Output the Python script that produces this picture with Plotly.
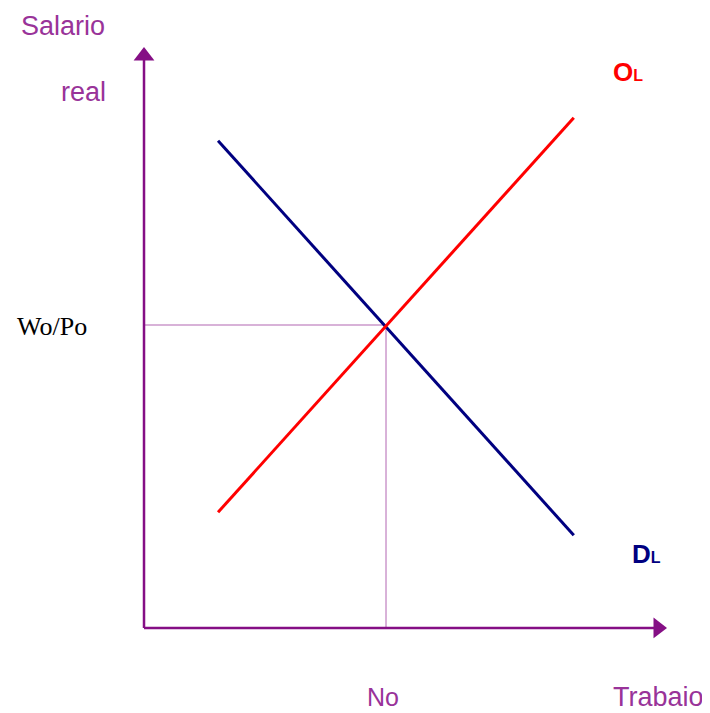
import plotly.graph_objects as go

# Labour market: supply (OL) and demand (DL) of labour vs real wage
demand_x = [1.53, 8.88]
demand_y = [8.04, 1.53]
supply_x = [1.53, 8.88]
supply_y = [1.91, 8.42]

# equilibrium
n0 = 5.0
w0 = 5.0

# axis extents (arrow marker centres)
x_axis_end = 10.62
y_axis_end = 9.44

purple = "#850F85"
text_purple = "#993399"
guide = "#CC99CC"

fig = go.Figure()

# guide lines to the equilibrium
fig.add_trace(go.Scatter(x=[0, n0, n0], y=[w0, w0, 0], mode="lines",
                         line=dict(color=guide, width=1.5), hoverinfo="skip"))

# axes
fig.add_trace(go.Scatter(x=[0, 0], y=[0, y_axis_end], mode="lines",
                         line=dict(color=purple, width=2.5), hoverinfo="skip"))
fig.add_trace(go.Scatter(x=[0, x_axis_end], y=[0, 0], mode="lines",
                         line=dict(color=purple, width=2.5), hoverinfo="skip"))
fig.add_trace(go.Scatter(x=[0], y=[y_axis_end], mode="markers",
                         marker=dict(symbol="triangle-up", size=18, color=purple),
                         hoverinfo="skip"))
fig.add_trace(go.Scatter(x=[x_axis_end], y=[0], mode="markers",
                         marker=dict(symbol="triangle-right", size=18, color=purple),
                         hoverinfo="skip"))

# curves
fig.add_trace(go.Scatter(x=demand_x, y=demand_y, mode="lines",
                         line=dict(color="#000080", width=3), name="DL"))
fig.add_trace(go.Scatter(x=supply_x, y=supply_y, mode="lines",
                         line=dict(color="#FF0000", width=3), name="OL"))

sans = "Liberation Sans, Arial, sans-serif"
labels = [
    (-1.674, 9.934, "Salario", text_purple, 27, sans),
    (-1.260, 8.845, "real", text_purple, 27, sans),
    (-1.901, 4.98, "Wo/Po", "#000000", 26, "Liberation Serif, Times New Roman, serif"),
    (4.938, -1.139, "No", text_purple, 25, sans),
    (10.63, -1.139, "Trabaio", text_purple, 27, sans),
    (10.0, 9.175, "<b>O<span style='font-size:16px'>L</span></b>", "#FF0000", 26, sans),
    (10.39, 1.22, "<b>D<span style='font-size:16px'>L</span></b>", "#000080", 26, sans),
]
for x, y, t, c, s, f in labels:
    fig.add_annotation(x=x, y=y, text=t, showarrow=False,
                       font=dict(color=c, size=s, family=f))

# page body adds an 8px offset, so the figure is 8px smaller and ranges shifted
fig.update_layout(
    width=702, height=705,
    margin=dict(l=0, r=0, t=0, b=0),
    paper_bgcolor="white", plot_bgcolor="white",
    showlegend=False,
    xaxis=dict(range=[-2.810, 11.694], visible=False, fixedrange=True),
    yaxis=dict(range=[-1.403, 10.231], visible=False, fixedrange=True),
)

fig.write_html("out.html")
